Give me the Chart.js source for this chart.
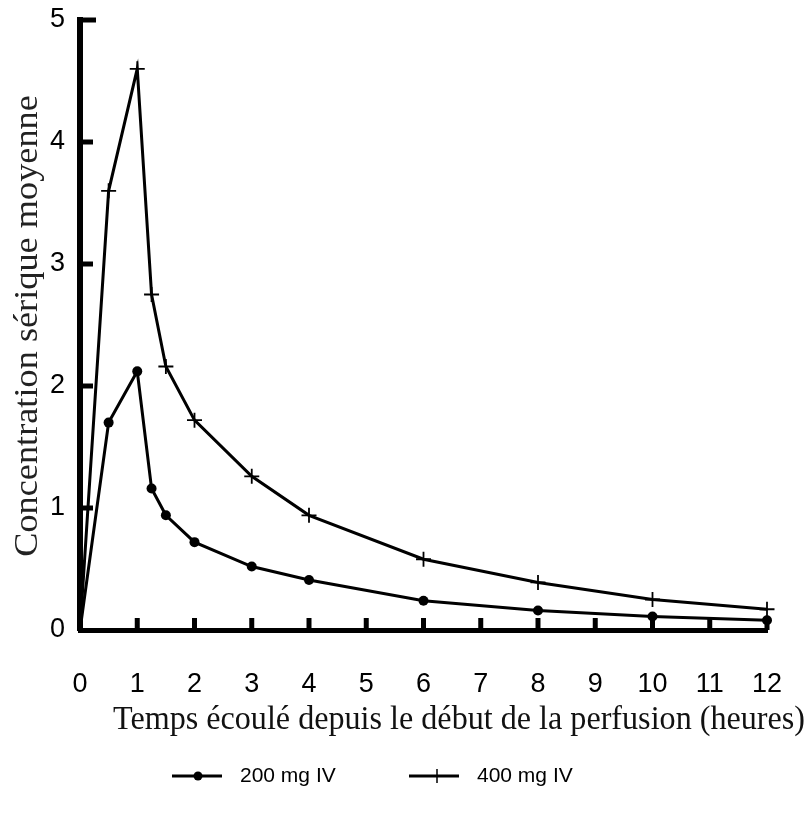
<!DOCTYPE html>
<html>
<head>
<meta charset="utf-8">
<script src="https://cdn.jsdelivr.net/npm/chart.js@4"></script>
<style>
  html, body { margin: 0; padding: 0; background: #fff; }
  #wrap { width: 811px; height: 822px; }
</style>
</head>
<body>
<div id="wrap"><canvas id="c" width="811" height="822"></canvas></div>
<script>
// ---- data ----
const hours = [0, 0.5, 1, 1.25, 1.5, 2, 3, 4, 6, 8, 10, 12];
const dose200 = [0, 1.70, 2.12, 1.16, 0.94, 0.72, 0.52, 0.41, 0.24, 0.16, 0.11, 0.08];
const dose400 = [0, 3.60, 4.60, 2.75, 2.16, 1.72, 1.26, 0.94, 0.58, 0.39, 0.25, 0.17];
const seriesLabels = ['200 mg IV', '400 mg IV'];
const xTicks = [0, 1, 2, 3, 4, 5, 6, 7, 8, 9, 10, 11, 12];
const yTicks = [0, 1, 2, 3, 4, 5];
const xTitle = 'Temps écoulé depuis le début de la perfusion (heures)';
const yTitle = 'Concentration sérique moyenne';

const SANS = "'Liberation Sans Narrow', 'Arial Narrow', 'Liberation Sans', sans-serif";
const SERIF = "'Liberation Serif', 'Times New Roman', serif";

function toPoints(xs, ys) { return xs.map((x, i) => ({ x: x, y: ys[i] })); }

// inward tick marks drawn from the scales
const innerTicks = {
  id: 'innerTicks',
  afterDatasetsDraw(chart) {
    const ctx = chart.ctx;
    const xs = chart.scales.x, ys = chart.scales.y;
    const ca = chart.chartArea;
    ctx.save();
    ctx.strokeStyle = '#000';
    ctx.lineWidth = 5;
    ctx.lineCap = 'butt';
    ys.ticks.forEach(t => {
      if (t.value === 0) return;
      const py = ys.getPixelForValue(t.value);
      ctx.beginPath();
      ctx.moveTo(ca.left, py);
      ctx.lineTo(ca.left + (t.value === 5 ? 16 : 13), py);
      ctx.stroke();
    });
    xs.ticks.forEach(t => {
      if (t.value === 0) return;
      const px = xs.getPixelForValue(t.value);
      ctx.beginPath();
      ctx.moveTo(px, ca.bottom);
      ctx.lineTo(px, ca.bottom - 12);
      ctx.stroke();
    });
    ctx.restore();
  }
};

// axis titles (slightly stretched serif, as in the original) and legend
const textAndLegend = {
  id: 'textAndLegend',
  afterDraw(chart) {
    const ctx = chart.ctx;
    ctx.save();
    // y title
    ctx.fillStyle = '#222';
    ctx.font = '33px ' + SERIF;
    ctx.textAlign = 'center';
    ctx.textBaseline = 'alphabetic';
    ctx.save();
    ctx.translate(37, 326);
    ctx.rotate(-Math.PI / 2);
    ctx.scale(1.1, 1);
    ctx.fillText(yTitle, 0, 0);
    ctx.restore();
    // x title
    ctx.save();
    ctx.fillStyle = '#111';
    ctx.font = '33px ' + SERIF;
    ctx.textAlign = 'left';
    const w = ctx.measureText(xTitle).width;
    const target = 692;
    ctx.translate(113, 729);
    ctx.scale(target / w, 1);
    ctx.fillText(xTitle, 0, 0);
    ctx.restore();

    // legend
    const y = 776;
    const items = [{ x: 172 }, { x: 409 }];
    chart.data.datasets.forEach((ds, i) => {
      const x0 = items[i].x;
      ctx.strokeStyle = '#000';
      ctx.lineWidth = 3;
      ctx.beginPath();
      ctx.moveTo(x0, y);
      ctx.lineTo(x0 + 50, y);
      ctx.stroke();
      const cx = x0 + (i === 0 ? 26 : 28);
      if (i === 0) {
        ctx.fillStyle = '#000';
        ctx.beginPath();
        ctx.arc(cx, y, 4.5, 0, Math.PI * 2);
        ctx.fill();
      } else {
        ctx.lineWidth = 1.5;
        ctx.beginPath();
        ctx.moveTo(cx - 7, y); ctx.lineTo(cx + 7, y);
        ctx.moveTo(cx, y - 7); ctx.lineTo(cx, y + 7);
        ctx.stroke();
      }
      ctx.fillStyle = '#000';
      ctx.font = '21px ' + SANS;
      ctx.textBaseline = 'middle';
      ctx.textAlign = 'left';
      ctx.fillText(ds.label, x0 + 68, y);
    });
    ctx.restore();
  }
};

new Chart(document.getElementById('c'), {
  type: 'line',
  data: {
    datasets: [
      {
        label: seriesLabels[0],
        data: toPoints(hours, dose200),
        borderColor: '#000',
        backgroundColor: '#000',
        borderWidth: 3,
        tension: 0,
        pointStyle: 'circle',
        pointRadius: c => (c.raw && c.raw.x === 0 ? 0 : 5),
        pointBackgroundColor: '#000',
        pointBorderWidth: 0,
        clip: false
      },
      {
        label: seriesLabels[1],
        data: toPoints(hours, dose400),
        borderColor: '#000',
        backgroundColor: '#000',
        borderWidth: 3,
        tension: 0,
        pointStyle: 'cross',
        pointRadius: c => (c.raw && c.raw.x === 0 ? 0 : 7.5),
        pointBorderWidth: 1.8,
        pointBorderColor: '#000',
        clip: false
      }
    ]
  },
  options: {
    responsive: false,
    animation: false,
    layout: { padding: { left: 0, right: 44, top: 20, bottom: 77 } },
    plugins: {
      legend: { display: false },
      tooltip: { enabled: false }
    },
    scales: {
      x: {
        type: 'linear',
        min: 0, max: 12,
        afterBuildTicks: s => { s.ticks = xTicks.map(v => ({ value: v })); },
        afterFit: s => { s.height = 115; s.paddingLeft = 0; s.paddingRight = 0; },
        grid: { display: false, drawTicks: false },
        border: { display: true, color: '#000', width: 5 },
        ticks: {
          color: '#000',
          padding: 38,
          maxRotation: 0,
          autoSkip: false,
          font: { family: SANS, size: 27 }
        },
        title: { display: false, text: xTitle }
      },
      y: {
        type: 'linear',
        min: 0, max: 5,
        afterBuildTicks: s => { s.ticks = yTicks.map(v => ({ value: v })); },
        afterFit: s => { s.width = 80; s.paddingTop = 0; s.paddingBottom = 0; },
        grid: { display: false, drawTicks: false },
        border: { display: true, color: '#000', width: 6 },
        ticks: {
          color: '#000',
          padding: 15,
          autoSkip: false,
          font: { family: SANS, size: 27 }
        },
        title: { display: false, text: yTitle }
      }
    }
  },
  plugins: [innerTicks, textAndLegend]
});
</script>
</body>
</html>
